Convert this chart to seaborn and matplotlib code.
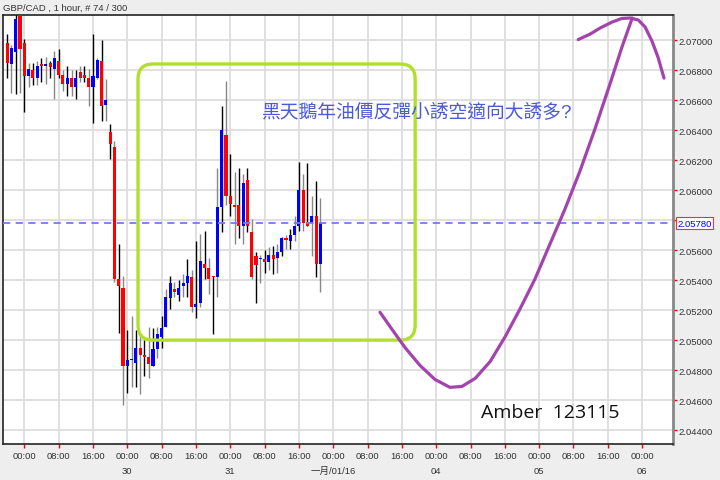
import matplotlib
matplotlib.use("Agg")
import matplotlib.pyplot as plt
import matplotlib.transforms as mtransforms
from matplotlib.patches import FancyBboxPatch
import pandas as pd
import seaborn as sns

# hourly bars, index 0 = 00:00 on the 29th (weekend hours skipped)
bar_idx = list(range(-4, 70))
opens = [2.0698, 2.0684, 2.0692, 2.0720, 2.0698, 2.0676, 2.0680, 2.0675, 2.0684, 2.0683,
         2.0685, 2.0681, 2.0686, 2.0677, 2.0671, 2.0675, 2.0669, 2.0679, 2.0677, 2.0675,
         2.0669, 2.0675, 2.0686, 2.0657, 2.0639, 2.0629, 2.0541, 2.0535, 2.0483, 2.0487,
         2.0485, 2.0495, 2.0490, 2.0489, 2.0483, 2.0494, 2.0502, 2.0509, 2.0528, 2.0534,
         2.0530, 2.0536, 2.0538, 2.0542, 2.0522, 2.0525, 2.0551, 2.0548, 2.0543, 2.0542,
         2.0589, 2.0637, 2.0596, 2.0590, 2.0590, 2.0576, 2.0607, 2.0572, 2.0556, 2.0554,
         2.0554, 2.0552, 2.0557, 2.0555, 2.0559, 2.0568, 2.0566, 2.0570, 2.0576, 2.0600,
         2.0579, 2.0578, 2.0583, 2.0551]
highs = [2.0704, 2.0697, 2.0718, 2.0722, 2.0701, 2.0685, 2.0685, 2.0686, 2.0688, 2.0689,
         2.0686, 2.0693, 2.0694, 2.0680, 2.0683, 2.0680, 2.0680, 2.0683, 2.0683, 2.0681,
         2.0704, 2.0688, 2.0700, 2.0674, 2.0644, 2.0633, 2.0564, 2.0543, 2.0507, 2.0516,
         2.0507, 2.0505, 2.0500, 2.0509, 2.0508, 2.0509, 2.0516, 2.0534, 2.0543, 2.0539,
         2.0540, 2.0544, 2.0554, 2.0547, 2.0566, 2.0571, 2.0573, 2.0555, 2.0543, 2.0615,
         2.0656, 2.0673, 2.0624, 2.0612, 2.0615, 2.0611, 2.0615, 2.0581, 2.0559, 2.0557,
         2.0560, 2.0562, 2.0563, 2.0564, 2.0569, 2.0570, 2.0574, 2.0583, 2.0619, 2.0611,
         2.0618, 2.0596, 2.0606, 2.0595]
lows = [2.0675, 2.0665, 2.0664, 2.0665, 2.0652, 2.0669, 2.0670, 2.0670, 2.0672, 2.0671,
        2.0675, 2.0661, 2.0675, 2.0666, 2.0663, 2.0663, 2.0661, 2.0672, 2.0672, 2.0656,
        2.0645, 2.0674, 2.0646, 2.0646, 2.0621, 2.0539, 2.0505, 2.0457, 2.0465, 2.0469,
        2.0469, 2.0464, 2.0476, 2.0475, 2.0483, 2.0488, 2.0495, 2.0509, 2.0521, 2.0529,
        2.0526, 2.0529, 2.0529, 2.0519, 2.0515, 2.0522, 2.0541, 2.0531, 2.0504, 2.0529,
        2.0572, 2.0590, 2.0583, 2.0564, 2.0568, 2.0564, 2.0572, 2.0541, 2.0525, 2.0538,
        2.0545, 2.0547, 2.0544, 2.0545, 2.0556, 2.0561, 2.0561, 2.0566, 2.0573, 2.0573,
        2.0576, 2.0556, 2.0542, 2.0532]
closes = [2.0685, 2.0695, 2.0714, 2.0694, 2.0676, 2.0681, 2.0675, 2.0683, 2.0683, 2.0684,
          2.0682, 2.0688, 2.0677, 2.0671, 2.0675, 2.0669, 2.0675, 2.0675, 2.0675, 2.0669,
          2.0676, 2.0687, 2.0656, 2.0660, 2.0631, 2.0541, 2.0536, 2.0483, 2.0487, 2.0487,
          2.0495, 2.0490, 2.0489, 2.0484, 2.0494, 2.0504, 2.0508, 2.0529, 2.0538, 2.0532,
          2.0535, 2.0538, 2.0543, 2.0522, 2.0524, 2.0553, 2.0548, 2.0541, 2.0542, 2.0589,
          2.0640, 2.0596, 2.0591, 2.0589, 2.0576, 2.0605, 2.0576, 2.0542, 2.0550, 2.0555,
          2.0552, 2.0557, 2.0554, 2.0559, 2.0568, 2.0567, 2.0570, 2.0576, 2.0600, 2.0578,
          2.0576, 2.0583, 2.0551, 2.0578]

last_price = 2.0578

# hand-drawn purple sketch (bar index, price)
sketch1_x = [82.9, 85.7, 88.7, 92.2, 95.7, 99.2, 102.0, 105.1, 108.6, 112.0,
             115.5, 119.0, 122.5, 126.0, 129.5, 133.0, 136.5, 139.3, 141.7]
sketch1_y = [2.05186, 2.05072, 2.04952, 2.04832, 2.04738, 2.04685, 2.04691, 2.04745, 2.04858, 2.05019,
             2.05206, 2.05406, 2.05640, 2.05873, 2.06127, 2.06408, 2.06708, 2.06955, 2.07149]
sketch2_x = [129.1, 131.9, 134.2, 137.0, 139.3, 141.2, 143.1, 144.7, 146.3, 147.7, 149.1]
sketch2_y = [2.07005, 2.07042, 2.07082, 2.07122, 2.07146, 2.07149, 2.07136, 2.07089, 2.06995, 2.06888, 2.06748]

# green box (bar index / price corners)
box_x = [26.5, 91.1]
box_y = [2.0500, 2.06842]

hour_labels = ["00:00", "08:00", "16:00"]
day_labels = {24: "30", 48: "31", 72: "一月/01/16", 96: "04", 120: "05", 144: "06"}

sns.set_theme(style="whitegrid")
plt.rcParams['font.family'] = ['Liberation Sans', 'Noto Sans CJK TC', 'DejaVu Sans']

df = pd.DataFrame({"i": bar_idx, "o": opens, "h": highs, "l": lows, "c": closes})
df["up"] = df["c"] >= df["o"]
df["bottom"] = df[["o", "c"]].min(axis=1)
df["size"] = (df["c"] - df["o"]).abs().clip(lower=0.00005)

fig = plt.figure(figsize=(7.2, 4.81), dpi=100, facecolor="#eeeeee")
ax = fig.add_axes([3 / 720, 36 / 481, 670 / 720, 429 / 481])
ax.set_facecolor("white")

x_min, x_max = -4.97, 151.2
y_min, y_max = 2.04307, 2.07169
ax.set_xlim(x_min, x_max)
ax.set_ylim(y_min, y_max)

# candles
wick_cols = ["#000000" if i % 2 == 0 else "#888888" for i in df["i"]]
ax.vlines(df["i"], df["l"], df["h"], colors=wick_cols, linewidth=1.0, zorder=2)
ax.bar(df["i"], df["size"], bottom=df["bottom"], width=0.72,
       color=["#0000ff" if u else "#ff0000" for u in df["up"]], linewidth=0, zorder=3)

# last price line
ax.axhline(last_price, color="#7878f0", linestyle=(0, (4, 3)), linewidth=1.3, zorder=4)

# green highlight box with rounded corners
ax.add_patch(FancyBboxPatch((box_x[0], box_y[0]), box_x[1] - box_x[0], box_y[1] - box_y[0],
                            boxstyle="round,pad=0,rounding_size=3.5", mutation_aspect=2.865e-4,
                            fill=False, ec="#b2e02a", lw=2.4, zorder=5))

# purple sketch
sns.lineplot(x=sketch1_x, y=sketch1_y, sort=False, ax=ax, color="#a343ad", lw=2.3, zorder=6)
sns.lineplot(x=sketch2_x, y=sketch2_y, sort=False, ax=ax, color="#a343ad", lw=2.3, zorder=6)

ax.text(55.4, 2.06521, "黑天鵝年油價反彈小誘空適向大誘多?", color="#4b5bd4", fontsize=13.5,
        va="center", ha="left", zorder=7)
ax.text(106.5, 2.04518, "Amber  123115", color="#111111", fontsize=14,
        family=["Open Sans", "DejaVu Sans"], va="center", ha="left", zorder=7)

# axes styling
ax.grid(True, color="#dddddd", linewidth=1.3)
ax.set_axisbelow(True)
for s in ["left", "bottom", "top"]:
    ax.spines[s].set_color("#222222")
    ax.spines[s].set_linewidth(1.2)
ax.spines["right"].set_color("#888888")
ax.spines["right"].set_linewidth(2)

y_ticks = [2.044 + 0.002 * k for k in range(14)]
ax.yaxis.tick_right()
ax.set_yticks(y_ticks)
ax.set_yticklabels(["" if abs(t - 2.058) < 1e-9 else f"{t:.5f}" for t in y_ticks])
x_ticks = list(range(0, 145, 8))
ax.set_xticks(x_ticks)
ax.set_xticklabels([hour_labels[k % 3] for k in range(len(x_ticks))])
ax.tick_params(axis="both", colors="#ff0000", labelcolor="#333333", labelsize=6.8,
               length=3, width=1, pad=2, direction="out")
ax.tick_params(axis="y", right=True, left=False, pad=1)
ax.tick_params(axis="x", bottom=True)

tr = mtransforms.blended_transform_factory(ax.transData, ax.transAxes)
for pos, lab in day_labels.items():
    ax.text(pos, -0.062, lab, transform=tr, ha="center", va="center", fontsize=6.8, color="#333333")

tr_y = mtransforms.blended_transform_factory(ax.transAxes, ax.transData)
ax.text(1.007, last_price, f"{last_price:.5f}", transform=tr_y, ha="left", va="center",
        fontsize=6.8, color="#0000ff", zorder=8,
        bbox=dict(boxstyle="square,pad=0.15", fc="white", ec="#ff3030", lw=0.8))

fig.text(3 / 720, 1 - 8 / 481, "GBP/CAD , 1 hour, # 74 / 300", fontsize=6.8, color="#333333",
         ha="left", va="center")

fig.savefig("out.png", dpi=100, facecolor=fig.get_facecolor())
